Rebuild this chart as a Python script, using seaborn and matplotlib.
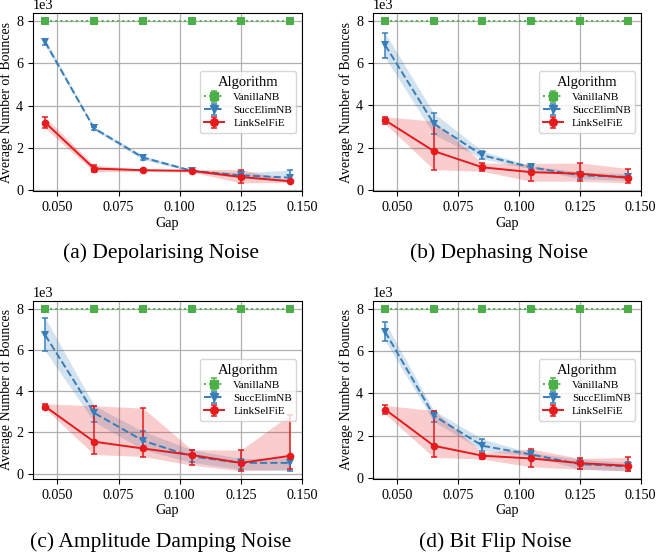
import numpy as np
import pandas as pd
import seaborn as sns
import matplotlib.pyplot as plt

# x positions (gap between best and second-best link)
GAP = [0.045, 0.065, 0.085, 0.105, 0.125, 0.145]
ALGOS = ['VanillaNB', 'SuccElimNB', 'LinkSelFiE']
CAPTIONS = ['(a) Depolarising Noise', '(b) Dephasing Noise',
            '(c) Amplitude Damping Noise', '(d) Bit Flip Noise']
X_TICKS = [0.050, 0.075, 0.100, 0.125, 0.150]
Y_TICKS = [0, 2000, 4000, 6000, 8000]

VANILLA = [8000, 8000, 8000, 8000, 8000, 8000]

# (a) depolarising
DEPOL_SUCC = [7000, 2930, 1550, 920, 710, 600]
DEPOL_SUCC_LO = [6850, 2850, 1450, 870, 580, 420]
DEPOL_SUCC_HI = [7160, 3010, 1650, 970, 830, 950]
DEPOL_LINK = [3200, 1030, 950, 920, 630, 430]
DEPOL_LINK_LO = [2930, 870, 900, 860, 350, 370]
DEPOL_LINK_HI = [3450, 1190, 1000, 980, 980, 490]

# (b) dephasing
DEPH_SUCC = [6860, 3130, 1630, 1060, 680, 600]
DEPH_SUCC_LO = [6270, 2620, 1460, 990, 520, 440]
DEPH_SUCC_HI = [7430, 3630, 1830, 1130, 840, 760]
DEPH_LINK = [3290, 1830, 1060, 830, 760, 560]
DEPH_LINK_LO = [3130, 950, 870, 400, 400, 320]
DEPH_LINK_HI = [3460, 3250, 1270, 1240, 1270, 1000]

# (c) amplitude damping
AMP_SUCC = [6730, 2950, 1600, 830, 520, 520]
AMP_SUCC_LO = [5960, 2520, 1160, 540, 210, 130]
AMP_SUCC_HI = [7570, 3310, 2050, 1160, 730, 780]
AMP_LINK = [3260, 1550, 1220, 900, 520, 860]
AMP_LINK_LO = [3140, 930, 830, 410, 130, 210]
AMP_LINK_HI = [3390, 3300, 3180, 1160, 1140, 2850]

# (d) bit flip
FLIP_SUCC = [6920, 2950, 1520, 1110, 650, 540]
FLIP_SUCC_LO = [6490, 2670, 1290, 1040, 410, 330]
FLIP_SUCC_HI = [7370, 3190, 1840, 1180, 890, 730]
FLIP_LINK = [3240, 1520, 1050, 920, 700, 570]
FLIP_LINK_LO = [3030, 970, 890, 520, 410, 330]
FLIP_LINK_HI = [3430, 3190, 1200, 1370, 920, 970]

PANELS = [
    (DEPOL_SUCC, DEPOL_SUCC_LO, DEPOL_SUCC_HI, DEPOL_LINK, DEPOL_LINK_LO, DEPOL_LINK_HI),
    (DEPH_SUCC, DEPH_SUCC_LO, DEPH_SUCC_HI, DEPH_LINK, DEPH_LINK_LO, DEPH_LINK_HI),
    (AMP_SUCC, AMP_SUCC_LO, AMP_SUCC_HI, AMP_LINK, AMP_LINK_LO, AMP_LINK_HI),
    (FLIP_SUCC, FLIP_SUCC_LO, FLIP_SUCC_HI, FLIP_LINK, FLIP_LINK_LO, FLIP_LINK_HI),
]

colors = {'VanillaNB': '#4daf4a', 'SuccElimNB': '#377eb8', 'LinkSelFiE': '#e41a1c'}
markers = {'VanillaNB': 's', 'SuccElimNB': 'v', 'LinkSelFiE': 'o'}
dashes = {'VanillaNB': (1, 1.65), 'SuccElimNB': (3.7, 1.6), 'LinkSelFiE': ''}
linestyles = {'VanillaNB': ':', 'SuccElimNB': '--', 'LinkSelFiE': '-'}

plt.rcParams['font.family'] = 'serif'
plt.rcParams['font.serif'] = ['Liberation Serif', 'DejaVu Serif']

fig = plt.figure(figsize=(6.56, 5.58), dpi=100)

# axes boxes in figure fractions, and caption positions
boxes = [[0.0503, 0.6577, 0.410, 0.319], [0.5686, 0.6577, 0.408, 0.319],
         [0.0503, 0.1416, 0.410, 0.319], [0.5686, 0.1416, 0.408, 0.319]]
caption_xy = [(161 / 656, 0.5466), (499 / 656, 0.5466),
              (161 / 656, 0.0287), (495 / 656, 0.0287)]

for i, (succ, succ_lo, succ_hi, link, link_lo, link_hi) in enumerate(PANELS):
    ax = fig.add_axes(boxes[i])

    means = {'VanillaNB': VANILLA, 'SuccElimNB': succ, 'LinkSelFiE': link}
    lows = {'VanillaNB': VANILLA, 'SuccElimNB': succ_lo, 'LinkSelFiE': link_lo}
    highs = {'VanillaNB': VANILLA, 'SuccElimNB': succ_hi, 'LinkSelFiE': link_hi}

    df = pd.DataFrame([
        {'Gap': g, 'Bounces': v, 'Algorithm': a}
        for a in ALGOS for g, v in zip(GAP, means[a])
    ])

    # shaded bands and error bars
    for a in ALGOS:
        m = np.array(means[a])
        lo = np.array(lows[a])
        hi = np.array(highs[a])
        ax.fill_between(GAP, lo, hi, color=colors[a], alpha=0.22, lw=0, zorder=1)
        ax.errorbar(GAP, m, yerr=[m - lo, hi - m], fmt='none', ecolor=colors[a],
                    elinewidth=1.1, capsize=2.5, capthick=1.1, zorder=2)

    sns.lineplot(data=df, x='Gap', y='Bounces', hue='Algorithm', style='Algorithm',
                 hue_order=ALGOS, style_order=ALGOS, palette=colors,
                 markers=markers, dashes=dashes, errorbar=None, legend=False,
                 linewidth=1.4, markersize=5.5, markeredgewidth=0, ax=ax, zorder=3)

    ax.set_xticks(X_TICKS)
    ax.set_xticklabels([f'{t:.3f}' for t in X_TICKS])
    ax.set_yticks(Y_TICKS)
    ax.ticklabel_format(axis='y', style='sci', scilimits=(0, 0))
    ax.set_xlim(0.040, 0.150)
    ax.grid(True, color='#b0b0b0', linewidth=0.9)
    ax.set_axisbelow(True)
    ax.tick_params(labelsize=10.2)
    ax.yaxis.get_offset_text().set_fontsize(10.2)
    ax.set_xlabel('Gap', fontsize=10.2, labelpad=2)
    ax.set_ylabel('Average Number of Bounces', fontsize=10, labelpad=2)

    # legend handles in errorbar style (invisible NaN points, only used by the legend)
    handles = []
    for a in ALGOS:
        h = ax.errorbar([np.nan], [np.nan], yerr=[[1.0], [1.0]], fmt=markers[a],
                        linestyle=linestyles[a], color=colors[a], ms=5.5, lw=1.4,
                        elinewidth=1.1, capsize=2.5, capthick=1.1, label=a)
        handles.append(h)
    ax.legend(handles=handles, labels=ALGOS, title='Algorithm', loc='center right',
              fontsize=8, title_fontsize=10.5, handlelength=1.8, borderpad=0.4,
              labelspacing=0.3)

    fig.text(caption_xy[i][0], caption_xy[i][1], CAPTIONS[i], ha='center',
             va='center', fontsize=15.5)

plt.savefig('out.png', dpi=100)
plt.close()
